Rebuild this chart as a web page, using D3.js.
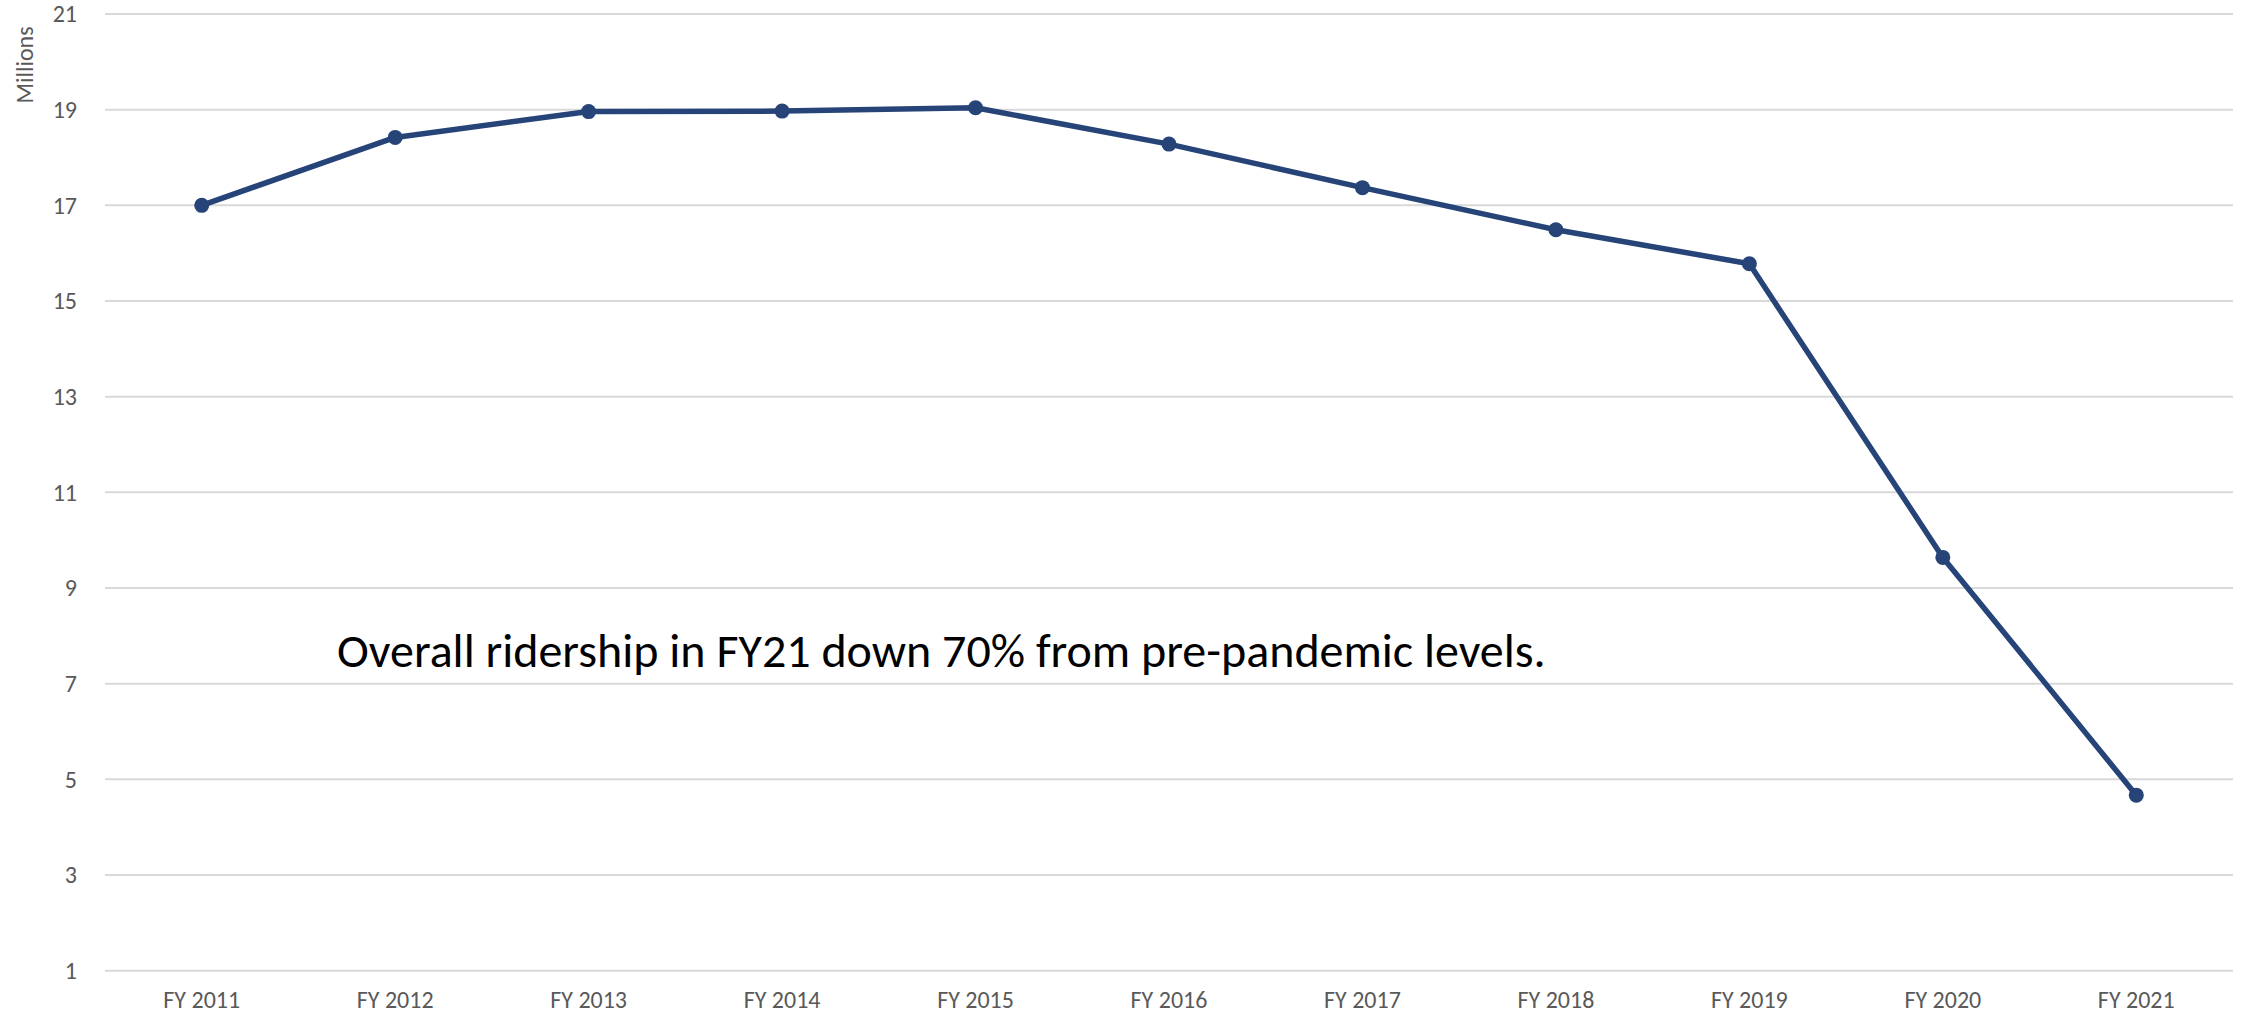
<!DOCTYPE html>
<html>
<head>
<meta charset="utf-8">
<script src="https://cdn.jsdelivr.net/npm/d3@7"></script>
<style>
  html, body { margin: 0; padding: 0; background: #ffffff; }
  svg { display: block; }
  text { font-family: Calibri, Carlito, Lato, "Open Sans", sans-serif; }
</style>
</head>
<body>
<svg id="chart" width="2246" height="1014"></svg>
<script>
const categories = ["FY 2011","FY 2012","FY 2013","FY 2014","FY 2015","FY 2016","FY 2017","FY 2018","FY 2019","FY 2020","FY 2021"];
const ridership = [17.0, 18.42, 18.96, 18.97, 19.04, 18.28, 17.37, 16.49, 15.78, 9.64, 4.67];
const yTicks = [1, 3, 5, 7, 9, 11, 13, 15, 17, 19, 21];
const yAxisTitle = "Millions";
const annotation = "Overall ridership in FY21 down 70% from pre-pandemic levels.";

(function () {
const svg = d3.select("#chart");
const plotLeft = 105, plotRight = 2233, plotTop = 14, plotBottom = 970.7;
const fontFam = "Calibri, Carlito, Lato, 'Open Sans', sans-serif";

const x = d3.scaleBand().domain(categories).range([plotLeft, plotRight]).paddingInner(0).paddingOuter(0);
const y = d3.scaleLinear().domain([1, 21]).range([plotBottom, plotTop]);

// gridlines
svg.append("g").selectAll("line").data(yTicks).join("line")
  .attr("x1", plotLeft).attr("x2", plotRight)
  .attr("y1", d => y(d)).attr("y2", d => y(d))
  .attr("stroke", "#d9d9d9").attr("stroke-width", 2);

// y axis labels
const yAxis = d3.axisLeft(y).tickValues(yTicks).tickSize(0).tickPadding(0).tickFormat(d3.format("d"));
const gy = svg.append("g").attr("transform", `translate(${77},0)`).call(yAxis);
gy.select(".domain").remove();
gy.selectAll("text").attr("fill", "#595959").style("font-size", "24px").style("font-family", fontFam);

// x axis labels
const xAxis = d3.axisBottom(x).tickSize(0).tickPadding(0);
const gx = svg.append("g").attr("transform", `translate(0,${plotBottom + 20})`).call(xAxis);
gx.select(".domain").remove();
gx.selectAll("text").attr("fill", "#595959").style("font-size", "24px").style("font-family", fontFam);

// y title
svg.append("text")
  .attr("transform", `translate(33,${65}) rotate(-90)`)
  .attr("text-anchor", "middle")
  .attr("fill", "#595959").style("font-size", "24px")
  .text(yAxisTitle);

// line
const cx = d => x(d) + x.bandwidth() / 2;
const line = d3.line().x((d, i) => cx(categories[i])).y(d => y(d));
svg.append("path").datum(ridership)
  .attr("d", line).attr("fill", "none")
  .attr("stroke", "#264478").attr("stroke-width", 5.5).attr("stroke-linejoin", "round");

svg.append("g").selectAll("circle").data(ridership).join("circle")
  .attr("cx", (d, i) => cx(categories[i])).attr("cy", d => y(d))
  .attr("r", 7.5).attr("fill", "#264478");

// annotation
svg.append("text")
  .attr("x", 337).attr("y", 667)
  .attr("fill", "#000000").style("font-size", "48px")
  .text(annotation);
})();
</script>
</body>
</html>
